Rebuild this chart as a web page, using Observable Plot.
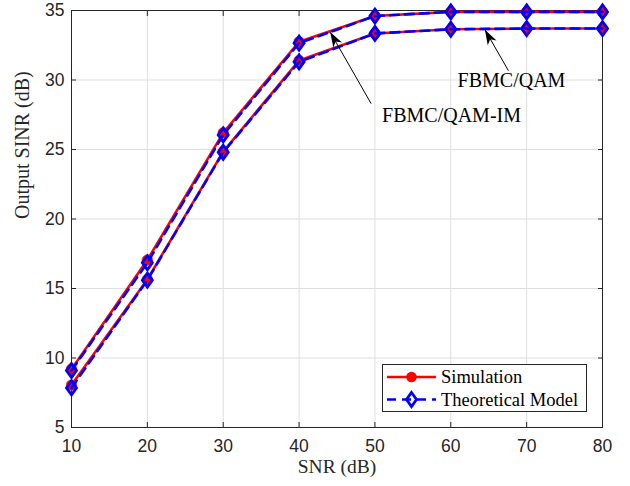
<!DOCTYPE html>
<html><head><meta charset="utf-8">
<script src="https://cdn.jsdelivr.net/npm/d3@7"></script>
<script src="https://cdn.jsdelivr.net/npm/@observablehq/plot@0.6"></script>
<style>
body{margin:0;background:#fff}
#wrap{position:relative;width:630px;height:486px;background:#fff}
#legend{position:absolute;left:382px;top:364px}
</style></head><body><div id="wrap"></div>
<script>
// ---- data ----
const snr = [10, 20, 30, 40, 50, 60, 70, 80];
const simIM   = [9.2, 17.05, 26.2, 32.75, 34.6, 34.9, 34.9, 34.9];
const theoIM  = [9.1, 16.85, 26.05, 32.65, 34.6, 34.9, 34.9, 34.9];
const simQAM  = [8.05, 15.65, 24.85, 31.4, 33.35, 33.65, 33.7, 33.7];
const theoQAM = [7.85, 15.6, 24.8, 31.3, 33.35, 33.65, 33.7, 33.7];
const xTicks = [10, 20, 30, 40, 50, 60, 70, 80];
const yTicks = [5, 10, 15, 20, 25, 30, 35];
const xLabel = "SNR (dB)";
const yLabel = "Output SINR (dB)";
const legendLabels = ["Simulation", "Theoretical Model"];
const noteLabels = ["FBMC/QAM", "FBMC/QAM-IM"];
const noteTextX = [68.0, 60.1];
const noteTextY = [29.95, 27.43];
const noteTailX = [67.6, 49.5];
const noteTailY = [30.67, 28.3];
const noteTipX = [64.5, 44.1];
const noteTipY = [33.62, 33.45];
const noteAngle = [-28.7, -30];

// ---- build tables ----
const sim = [];
const theo = [];
snr.forEach((x, i) => {
  sim.push({x, y: simIM[i], s: "IM"});
  sim.push({x, y: simQAM[i], s: "QAM"});
  theo.push({x, y: theoIM[i], s: "IM"});
  theo.push({x, y: theoQAM[i], s: "QAM"});
});
const notes = noteLabels.map((label, i) => ({
  label, tx: noteTextX[i], ty: noteTextY[i],
  x1: noteTailX[i], y1: noteTailY[i], x2: noteTipX[i], y2: noteTipY[i], angle: noteAngle[i]
}));

const diamond = {draw(ctx) {
  ctx.moveTo(0, -7); ctx.lineTo(5, 0); ctx.lineTo(0, 7); ctx.lineTo(-5, 0); ctx.closePath();
}};
const arrowHead = {draw(ctx) {
  ctx.moveTo(0, 0); ctx.lineTo(5, 15); ctx.lineTo(0, 11); ctx.lineTo(-5, 15); ctx.closePath();
}};

const RED = "#ff0000", BLUE = "#0000ff", AX = "#262626";
const SANS = "'Liberation Sans', Arial, Helvetica, sans-serif";
const SERIF = "'Liberation Serif', 'Times New Roman', serif";
const noText = () => "";

const chart = Plot.plot({
  width: 630, height: 486,
  marginLeft: 71, marginRight: 28, marginTop: 10, marginBottom: 59,
  x: {domain: [10, 80]},
  y: {domain: [5, 35]},
  style: {background: "white", fontFamily: SANS},
  marks: [
    Plot.gridX(xTicks, {stroke: "#dedede", strokeOpacity: 1}),
    Plot.gridY(yTicks, {stroke: "#dedede", strokeOpacity: 1}),
    Plot.axisX(xTicks, {anchor: "bottom", tickSize: 0, tickPadding: 12, fontSize: 17.5, fill: AX, label: null}),
    Plot.axisY(yTicks, {anchor: "left", tickSize: 0, tickPadding: 7, fontSize: 17.5, fill: AX, label: null}),
    Plot.axisX(xTicks, {anchor: "bottom", tickSize: -5, tickFormat: noText, stroke: AX, label: null}),
    Plot.axisX(xTicks, {anchor: "top", tickSize: -5, tickFormat: noText, stroke: AX, label: null}),
    Plot.axisY(yTicks, {anchor: "left", tickSize: -5, tickFormat: noText, stroke: AX, label: null}),
    Plot.axisY(yTicks, {anchor: "right", tickSize: -5, tickFormat: noText, stroke: AX, label: null}),
    Plot.frame({stroke: AX, strokeWidth: 1}),
    Plot.text([xLabel], {frameAnchor: "bottom", dy: 45, text: d => d, fontFamily: SERIF, fontSize: 19.5, fill: AX}),
    Plot.text([yLabel], {frameAnchor: "left", dx: -49, rotate: -90, text: d => d, fontFamily: SERIF, fontSize: 20, fill: AX}),
    Plot.line(sim, {x: "x", y: "y", z: "s", stroke: RED, strokeWidth: 2.6}),
    Plot.dot(sim, {x: "x", y: "y", r: 5.3, fill: RED, stroke: RED, strokeWidth: 0.5}),
    Plot.line(theo, {x: "x", y: "y", z: "s", stroke: BLUE, strokeWidth: 2.6, strokeDasharray: "9,6"}),
    Plot.dot(theo, {x: "x", y: "y", r: 5, symbol: diamond, fill: "none", stroke: BLUE, strokeWidth: 2.8}),
    Plot.link(notes, {x1: "x1", y1: "y1", x2: "x2", y2: "y2", stroke: "black", strokeWidth: 1}),
    Plot.dot(notes, {x: "x2", y: "y2", r: 5, symbol: arrowHead, fill: "black", stroke: "none", rotate: "angle"}),
    Plot.text(notes, {x: "tx", y: "ty", text: "label", fontFamily: SERIF, fontSize: 20, fill: "black"})
  ]
});

const wrap = document.getElementById("wrap");
wrap.appendChild(chart);

// ---- legend ----
const lg = d3.select(wrap).append("svg").attr("id", "legend")
  .attr("width", 206).attr("height", 49);
lg.append("rect").attr("x", 0.5).attr("y", 0.5).attr("width", 204).attr("height", 47)
  .attr("fill", "white").attr("stroke", AX).attr("stroke-width", 1);
const rows = [13, 35.5];
lg.append("line").attr("x1", 5).attr("x2", 54).attr("y1", rows[0]).attr("y2", rows[0])
  .attr("stroke", RED).attr("stroke-width", 2.6);
lg.append("circle").attr("cx", 29.5).attr("cy", rows[0]).attr("r", 5.3).attr("fill", RED);
lg.append("line").attr("x1", 5).attr("x2", 54).attr("y1", rows[1]).attr("y2", rows[1])
  .attr("stroke", BLUE).attr("stroke-width", 2.6).attr("stroke-dasharray", "9,6").attr("stroke-dashoffset", 0);
lg.append("path").attr("d", "M0,-7L5,0L0,7L-5,0Z").attr("transform", `translate(29.5,${rows[1]})`)
  .attr("fill", "none").attr("stroke", BLUE).attr("stroke-width", 2.8);
legendLabels.forEach((t, i) => {
  lg.append("text").attr("x", 59).attr("y", rows[i]).attr("dy", "0.35em")
    .attr("font-family", SERIF).attr("font-size", 18.5).attr("fill", "black").text(t);
});
</script></body></html>
